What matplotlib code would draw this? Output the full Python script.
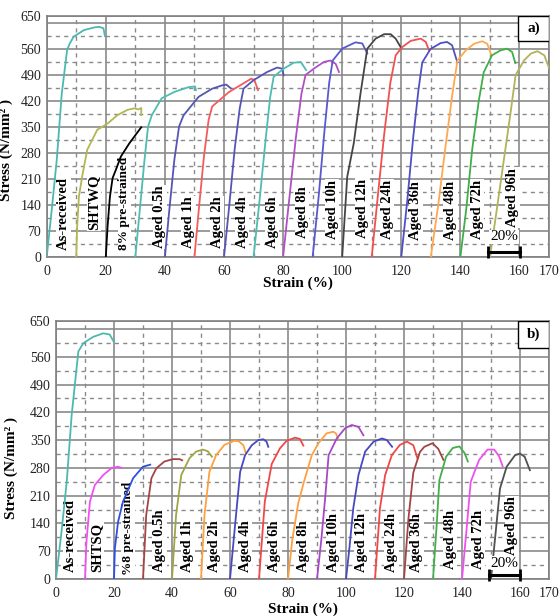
import matplotlib
matplotlib.use("Agg")
import matplotlib.pyplot as plt
from matplotlib.ticker import MultipleLocator, FixedLocator
from matplotlib.patches import Rectangle

plt.rcParams['font.family'] = ['Liberation Serif', 'DejaVu Serif']

# ---- panel a) data (strain %, stress N/mm2) ----
a_names = ['As-received', 'SHTWQ', '8% pre-strained', 'Aged 0.5h', 'Aged 1h', 'Aged 2h',
           'Aged 4h', 'Aged 6h', 'Aged 8h', 'Aged 10h', 'Aged 12h', 'Aged 24h',
           'Aged 36h', 'Aged 48h', 'Aged 72h', 'Aged 96h']
a_colors = ['#4DB8B0', '#B5B552', '#000000', '#4DBDB2', '#5555B5', '#F25C5C',
            '#5555B5', '#4DBDB2', '#B050C5', '#5858D0', '#454545', '#F25050',
            '#5050C5', '#FFA850', '#3FAF4A', '#B2B25A']
a_strain = [
    [0, 1.7, 3.4, 5.1, 6.9, 7.8, 9.1, 12.6, 16.0, 17.7, 19.2, 19.7],
    [10, 10.3, 10.9, 12.0, 13.7, 17.1, 20.6, 24.0, 27.4, 29.7, 31.0, 32.0, 32.0],
    [20, 20.6, 21.4, 22.3, 23.4, 25.1, 28.0, 32.0],
    [30, 31.5, 33.1, 34.3, 35.6, 38.9, 43.4, 48.0, 50.2, 50.5],
    [40, 41.5, 43.2, 44.8, 46.3, 51.4, 56.0, 59.4, 60.8, 62.3],
    [50, 51.5, 53.2, 54.8, 56.0, 61.7, 66.3, 69.2, 70.3, 71.5],
    [60, 61.8, 63.6, 65.3, 66.6, 70.0, 74.6, 78.0, 79.7, 80.2],
    [70, 72.0, 74.0, 75.6, 76.8, 80.2, 83.6, 86.0, 87.8],
    [80, 82.0, 84.3, 86.2, 87.6, 90.4, 93.8, 96.0, 97.8, 98.9],
    [90, 92.0, 94.0, 95.6, 96.8, 100.0, 104.5, 106.8, 108.5],
    [100, 101.7, 103.9, 106.2, 108.5, 111.3, 114.2, 116.4, 118.1, 120.0],
    [110, 112.0, 114.2, 116.3, 118.1, 120.3, 123.2, 126.6, 128.3, 129.4],
    [120, 122.0, 124.0, 125.8, 127.1, 129.9, 133.3, 135.5, 137.2, 138.9],
    [130, 132.5, 135.0, 137.3, 139.0, 141.8, 144.6, 147.4, 149.1, 150.5],
    [140, 142.0, 144.0, 146.2, 147.9, 150.7, 153.5, 155.8, 157.5, 158.6],
    [150, 152.0, 154.5, 157.0, 158.7, 161.6, 163.9, 166.1, 168.4, 170.1],
]
a_stress = [
    [0, 127, 262, 441, 558, 576, 594, 612, 619, 621, 617, 596],
    [0, 82, 163, 217, 289, 343, 360, 383, 397, 401, 398, 402, 383],
    [0, 82, 163, 213, 235, 271, 307, 350],
    [0, 127, 262, 352, 383, 428, 446, 458, 460, 450],
    [0, 127, 262, 352, 382, 432, 454, 463, 465, 455],
    [0, 130, 270, 370, 406, 445, 467, 481, 477, 450],
    [0, 140, 290, 400, 454, 477, 499, 511, 508, 490],
    [0, 150, 310, 430, 486, 508, 524, 526, 504],
    [0, 150, 320, 440, 491, 508, 526, 530, 521, 499],
    [0, 160, 340, 470, 530, 562, 579, 576, 549],
    [0, 216, 306, 441, 562, 589, 601, 601, 589, 563],
    [0, 160, 330, 470, 544, 566, 583, 589, 580, 557],
    [0, 150, 320, 450, 525, 561, 577, 580, 571, 527],
    [0, 140, 300, 440, 530, 557, 575, 582, 575, 544],
    [0, 130, 290, 420, 498, 544, 557, 562, 553, 523],
    [0, 110, 250, 390, 491, 531, 549, 555, 544, 508],
]
a_label_x = [5.7, 16.0, 26.3, 38.3, 48.0, 57.7, 66.1, 76.3, 86.4, 96.6, 106.8, 115.2,
             124.9, 136.7, 145.7, 157.6]
a_label_y = [19, 73, 19, 24, 24, 24, 24, 24, 51, 49, 51, 49, 46, 46, 49, 81]

# ---- panel b) data ----
b_names = ['As-received', 'SHTSQ', '%8 pre-strained', 'Aged 0.5h', 'Aged 1h', 'Aged 2h',
           'Aged 4h', 'Aged 6h', 'Aged 8h', 'Aged 10h', 'Aged 12h', 'Aged 24h',
           'Aged 36h', 'Aged 48h', 'Aged 72h', 'Aged 96h']
b_colors = ['#4DB8B0', '#F050F0', '#2F4FE0', '#A34545', '#9EA545', '#FFA040',
            '#4848C0', '#F04848', '#FFA040', '#A848C8', '#4848C0', '#F04848',
            '#A34545', '#42B04A', '#F050F0', '#505050']
b_strain = [
    [0, 1.9, 3.7, 5.4, 7.7, 9.4, 12.8, 16.3, 18.5, 19.9],
    [10, 10.5, 11.7, 13.4, 16.3, 19.1, 21.4, 22.6],
    [20, 20.3, 21.4, 23.1, 26.6, 30.0, 32.5],
    [30, 31.1, 32.9, 34.6, 37.4, 40.3, 42.6, 43.5],
    [40, 41.4, 43.2, 46.0, 48.3, 50.6, 52.3, 53.8],
    [50, 51.2, 52.9, 55.2, 58.1, 61.5, 63.0, 64.6, 65.5],
    [60, 61.8, 63.5, 65.2, 67.5, 69.8, 71.5, 72.6, 73.2],
    [70, 72.0, 74.4, 77.2, 79.5, 82.4, 84.1, 85.3],
    [80, 81.5, 83.5, 85.5, 88.2, 90.5, 93.3, 95.6, 96.5, 97.2],
    [90, 91.5, 92.8, 94.0, 96.8, 99.7, 102.0, 104.3, 106.0],
    [100, 101.2, 102.5, 104.3, 106.6, 109.5, 112.4, 114.1, 115.9],
    [110, 111.7, 113.5, 115.8, 118.6, 121.0, 123.2, 124.6],
    [120, 121.5, 123.2, 125.5, 127.0, 129.8, 131.8, 133.6],
    [130, 131.2, 132.2, 134.5, 136.8, 139.1, 140.9, 142.0],
    [140, 141.5, 143.0, 145.9, 148.8, 151.1, 152.8, 154.0],
    [150, 151.5, 153.1, 155.4, 158.3, 160.0, 161.6, 163.4],
]
b_stress = [
    [0, 119, 245, 413, 573, 594, 610, 619, 616, 598],
    [0, 94, 195, 237, 262, 279, 283, 280],
    [0, 77, 144, 195, 254, 283, 288],
    [0, 161, 254, 279, 296, 302, 302, 299],
    [0, 161, 262, 304, 321, 326, 322, 308],
    [0, 161, 270, 312, 338, 348, 347, 337, 316],
    [0, 140, 270, 312, 337, 350, 352, 346, 333],
    [0, 195, 290, 329, 348, 356, 353, 336],
    [0, 100, 190, 245, 312, 342, 367, 371, 367, 355],
    [0, 100, 203, 312, 354, 380, 388, 383, 362],
    [0, 80, 178, 262, 321, 346, 354, 350, 333],
    [0, 178, 262, 312, 338, 346, 337, 305],
    [0, 150, 268, 320, 333, 342, 328, 300],
    [0, 130, 249, 308, 330, 334, 317, 296],
    [0, 120, 245, 300, 326, 326, 309, 284],
    [0, 110, 228, 283, 312, 316, 308, 274],
]
b_label_x = [4.8, 14.0, 24.8, 35.7, 45.5, 54.6, 65.2, 75.5, 85.3, 95.6, 105.4, 115.7,
             124.4, 135.9, 145.6, 157.2]
b_label_y = [18, 18, 10, 18, 18, 18, 18, 18, 18, 18, 18, 18, 18, 25, 25, 60]

# scale bar "20%" (strain start, end, height) and text height
a_bar = [149.3, 160.1, 14]
a_bar_text_y = 54
b_bar = [149.3, 160.0, 10]
b_bar_text_y = 40


def draw_panel(ax, names, colors, strain, stress, lab_x, lab_y, bar, bar_text_y, tag):
    ax.set_xlim(0, 170)
    ax.set_ylim(0, 650)

    # grid: solid at majors, dashed at minors
    ax.xaxis.set_major_locator(FixedLocator(list(range(0, 161, 20)) + [170]))
    ax.xaxis.set_minor_locator(FixedLocator(list(range(10, 160, 20))))
    yt = list(range(0, 631, 70)) + [650]
    ax.yaxis.set_major_locator(FixedLocator(yt))
    ax.yaxis.set_minor_locator(FixedLocator(list(range(35, 631, 70))))
    ax.set_yticklabels(['' if v == 630 else str(v) for v in yt])
    ax.grid(True, which='major', color='#8a8a8a', lw=1.2, ls='-')
    ax.grid(True, which='minor', color='#8a8a8a', lw=1.0, ls=(0, (3, 3)))
    ax.set_axisbelow(True)
    ax.tick_params(which='both', length=0, labelsize=10, colors='#222222')
    ax.tick_params(axis='x', pad=6)
    ax.tick_params(axis='y', pad=4)
    for sp in ax.spines.values():
        sp.set_color('#808080')
        sp.set_linewidth(1.2)

    for i in range(len(names)):
        ax.plot(strain[i], stress[i], color=colors[i], lw=1.3, zorder=3)
        fs = 9.5 if 'pre-strained' in names[i] else 10.5
        ax.text(lab_x[i], lab_y[i], names[i], rotation=90, ha='center', va='bottom',
                fontsize=fs, fontweight='bold', zorder=2,
                bbox=dict(facecolor='white', edgecolor='none', pad=0.5))

    # "20%" scale bar
    ax.plot(bar[:2], [bar[2], bar[2]], color='black', lw=2.2, marker='|',
            markersize=8, mew=2, zorder=6, clip_on=False)
    ax.text((bar[0] + bar[1]) / 2, bar_text_y, '20%', ha='center', va='center',
            fontsize=11, zorder=5,
            bbox=dict(facecolor='white', edgecolor='none', pad=0.5))

    # panel tag box
    ax.add_patch(Rectangle((0.938, 0.897), 0.062, 0.103, transform=ax.transAxes,
                           facecolor='white', edgecolor='black', lw=1.0, zorder=6))
    ax.text(0.969, 0.948, tag, transform=ax.transAxes, ha='center', va='center',
            fontsize=11, fontweight='bold', zorder=7)

    ax.set_xlabel('Strain (%)', fontsize=11, fontweight='bold')
    ax.set_ylabel('Stress (N/mm\u00b2 )', fontsize=11, fontweight='bold')


fig = plt.figure(figsize=(5.6, 6.16), dpi=100)
ax_a = fig.add_axes([0.0834, 0.5828, 0.897, 0.3912])
ax_b = fig.add_axes([0.1, 0.0601, 0.8804, 0.4188])

draw_panel(ax_a, a_names, a_colors, a_strain, a_stress, a_label_x, a_label_y,
           a_bar, a_bar_text_y, 'a)')
draw_panel(ax_b, b_names, b_colors, b_strain, b_stress, b_label_x, b_label_y,
           b_bar, b_bar_text_y, 'b)')

ax_a.xaxis.set_label_coords(0.5, -0.083)
ax_a.yaxis.set_label_coords(-0.067, 0.444)
ax_b.xaxis.set_label_coords(0.5, -0.093)
ax_b.yaxis.set_label_coords(-0.077, 0.43)

fig.savefig('out.png', dpi=100)
